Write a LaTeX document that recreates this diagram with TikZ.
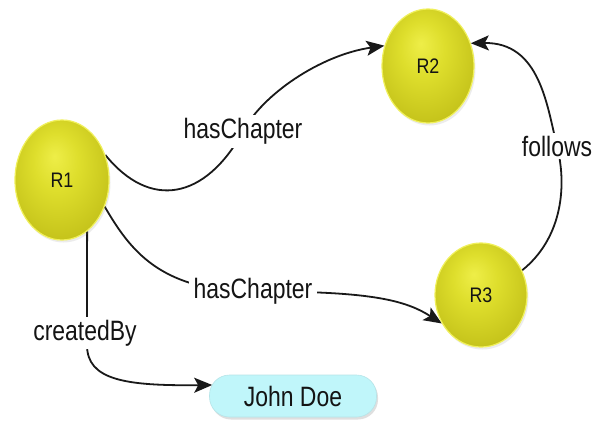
\documentclass[tikz,border=0pt]{standalone}
\usepackage{fontspec}
\setmainfont{Liberation Sans}
\usepackage{graphicx}
\usetikzlibrary{arrows.meta,shadows,backgrounds,calc,shapes.geometric}
\definecolor{ylight}{RGB}{238,238,72}
\definecolor{ymid}{RGB}{222,222,44}
\definecolor{ydark}{RGB}{196,194,26}
\definecolor{yborder}{RGB}{240,240,90}
\definecolor{jdfill}{RGB}{192,246,250}
\definecolor{txt}{RGB}{20,20,20}
\pgfdeclareradialshading{yball}{\pgfpoint{-4bp}{10bp}}{color(0bp)=(ylight); color(12bp)=(ymid); color(30bp)=(ydark); color(50bp)=(ydark)}
\newcommand\lbltext[1]{\scalebox{0.82}[1]{#1}}
\newcommand\restext[1]{\scalebox{0.85}[1]{#1}}
\begin{document}
\begin{tikzpicture}[x=1pt,y=-1pt,
  res/.style={ellipse, shading=yball, draw=yborder, line width=1.2pt, inner sep=0pt,
    text=txt, font=\fontsize{21}{23}\selectfont,
    drop shadow={shadow xshift=1.5pt, shadow yshift=-2.5pt, opacity=0.15}},
  lit/.style={rectangle, rounded corners=20pt, fill=jdfill, draw=jdfill!85!gray, line width=0.6pt,
    minimum width=167pt, minimum height=42pt, text=txt, font=\fontsize{28}{30}\selectfont,
    drop shadow={shadow xshift=1.5pt, shadow yshift=-2.5pt, opacity=0.25}},
  lab/.style={fill=white, inner xsep=5pt, inner ysep=3pt, text=txt, font=\fontsize{28}{30}\selectfont},
  edge/.style={line width=1.8pt, black!90},
  arr/.style={-{Stealth[length=18pt,width=15pt,inset=4pt]}}]
\useasboundingbox (0,0) rectangle (594,424);

\node[res, minimum width=94pt, minimum height=120pt] (R1) at (62,180) {\restext{R1}};
\node[res, minimum width=92pt, minimum height=114pt] (R2) at (428,66) {\restext{R2}};
\node[res, minimum width=92pt, minimum height=104pt] (R3) at (481,295) {\restext{R3}};
\node[lit] (JD) at (293,396) {\lbltext{John Doe}};

\node[lab] (hc1) at (243,131.5) {\lbltext{hasChapter}};
\node[lab] (hc2) at (253,291.5) {\lbltext{hasChapter}};
\node[lab] (cb) at (85,333) {\lbltext{createdBy}};
\node[lab] (fo) at (557,146) {\lbltext{follows}};

\begin{scope}[on background layer]
\fill[white] (0,0) rectangle (594,424);
\draw[edge, arr] (R1.30) .. controls (150,210) and (205,200) .. (hc1.center)
  .. controls (262,95) and (320,55) .. (R2.155);
\draw[edge, arr] (R1.-32) .. controls (130,250) and (160,291) .. (hc2.center)
  .. controls (370,291) and (405,300) .. (R3.216);
\draw[edge, arr] (R1.-64) -- (87,345) .. controls (87,380) and (125,386) .. ($(JD.west)+(3,-11)$);
\draw[edge, arr] (R3.31) .. controls (560,240) and (568,190) .. (fo.center)
  .. controls (547,106) and (540,42) .. (R2.28);
\end{scope}
\end{tikzpicture}
\end{document}
